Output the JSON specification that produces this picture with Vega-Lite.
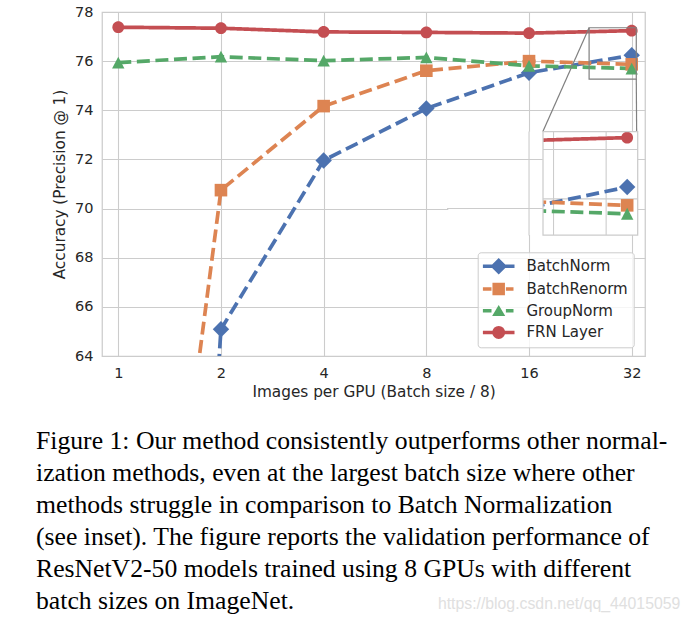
{
  "$schema": "https://vega.github.io/schema/vega-lite/v6.json",
  "background": "white",
  "padding": {"left": 35, "top": 3, "right": 0, "bottom": 0},
  "datasets": {
    "acc": [
      {"series": "BatchNorm", "images": 1, "acc": 0.1},
      {"series": "BatchNorm", "images": 2, "acc": 65.09},
      {"series": "BatchNorm", "images": 4, "acc": 71.96},
      {"series": "BatchNorm", "images": 8, "acc": 74.07},
      {"series": "BatchNorm", "images": 16, "acc": 75.53},
      {"series": "BatchNorm", "images": 32, "acc": 76.24},
      {"series": "BatchRenorm", "images": 1, "acc": 38.6},
      {"series": "BatchRenorm", "images": 2, "acc": 70.75},
      {"series": "BatchRenorm", "images": 4, "acc": 74.17},
      {"series": "BatchRenorm", "images": 8, "acc": 75.61},
      {"series": "BatchRenorm", "images": 16, "acc": 76.0},
      {"series": "BatchRenorm", "images": 32, "acc": 75.87},
      {"series": "GroupNorm", "images": 1, "acc": 75.94},
      {"series": "GroupNorm", "images": 2, "acc": 76.18},
      {"series": "GroupNorm", "images": 4, "acc": 76.02},
      {"series": "GroupNorm", "images": 8, "acc": 76.15},
      {"series": "GroupNorm", "images": 16, "acc": 75.81},
      {"series": "GroupNorm", "images": 32, "acc": 75.7},
      {"series": "FRN Layer", "images": 1, "acc": 77.38},
      {"series": "FRN Layer", "images": 2, "acc": 77.34},
      {"series": "FRN Layer", "images": 4, "acc": 77.19},
      {"series": "FRN Layer", "images": 8, "acc": 77.17},
      {"series": "FRN Layer", "images": 16, "acc": 77.14},
      {"series": "FRN Layer", "images": 32, "acc": 77.24}
    ],
    "zoombox": [
      {"x1": 24, "x2": 33, "y1": 75.27, "y2": 77.36}
    ],
    "connectors": [
      {"x1": 24, "y1": 77.36, "x2": 17.555, "y2": 73.128},
      {"x1": 33, "y1": 75.27, "x2": 33.24, "y2": 68.92}
    ],
    "insetbox": [
      {"x1": 24, "x2": 33, "y1": 75.27, "y2": 77.36}
    ],
    "insetmask": [
      {"x1": 15, "x2": 24, "y1": 75.27, "y2": 77.36}
    ],
    "insetgrid": [
      {"x1": 25, "x2": 25, "y1": 75.27, "y2": 77.36},
      {"x1": 30, "x2": 30, "y1": 75.27, "y2": 77.36},
      {"x1": 24, "x2": 33, "y1": 76, "y2": 76},
      {"x1": 24, "x2": 33, "y1": 77, "y2": 77}
    ],
    "gridfix": [
      {"x1": 16, "x2": 16, "y1": 68.9, "y2": 73.14},
      {"x1": 9.2, "x2": 17.555, "y1": 72, "y2": 72},
      {"x1": 9.2, "x2": 17.555, "y1": 70, "y2": 70}
    ]
  },
  "vconcat": [
    {
      "width": 543,
      "height": 344,
      "title": {
        "text": [
          "Figure 1: Our method consistently outperforms other normal-",
          "ization methods, even at the largest batch size where other",
          "methods struggle in comparison to Batch Normalization",
          "(see inset). The figure reports the validation performance of",
          "ResNetV2-50 models trained using 8 GPUs with different",
          "batch sizes on ImageNet."
        ],
        "orient": "bottom",
        "anchor": "start",
        "frame": "group",
        "dx": -66,
        "offset": 29,
        "font": "Liberation Serif",
        "fontSize": 25.7,
        "fontWeight": "normal",
        "color": "#000000",
        "lineHeight": 32.1
      },
      "resolve": {"scale": {"x": "independent", "y": "independent", "color": "independent", "shape": "independent", "strokeDash": "independent"}},
      "layer": [
        {
          "resolve": {"scale": {"color": "independent", "shape": "independent", "strokeDash": "independent"}},
          "layer": [
            {
              "data": {"name": "acc"},
              "mark": {"type": "line", "clip": true, "strokeWidth": 3.7},
              "encoding": {
                "x": {"field": "images", "type": "quantitative",
                      "scale": {"type": "log", "base": 2, "domain": [0.896, 35], "nice": false},
                      "axis": {"values": [1, 2, 4, 8, 16, 32], "format": "d", "title": "Images per GPU (Batch size / 8)", "labelFlush": false}},
                "y": {"field": "acc", "type": "quantitative",
                      "scale": {"domain": [64, 78], "nice": false, "zero": false},
                      "axis": {"values": [64, 66, 68, 70, 72, 74, 76, 78], "title": "Accuracy (Precision @ 1)", "labelFlush": false}},
                "color": {"field": "series", "type": "nominal",
                          "scale": {"domain": ["BatchNorm", "BatchRenorm", "GroupNorm", "FRN Layer"], "range": ["#4C72B0", "#DD8452", "#55A868", "#C44E52"]},
                          "legend": null},
                "strokeDash": {"field": "series", "type": "nominal",
                          "scale": {"domain": ["BatchNorm", "BatchRenorm", "GroupNorm", "FRN Layer"], "range": [[13, 5.6], [13, 5.6], [13, 5.6], [1, 0]]},
                          "legend": null}
              }
            },
            {
              "data": {"name": "acc"},
              "mark": {"type": "point", "filled": true, "size": 144, "opacity": 1, "clip": true, "strokeWidth": 0},
              "encoding": {
                "x": {"field": "images", "type": "quantitative", "scale": {"type": "log", "base": 2, "domain": [0.896, 35], "nice": false}},
                "y": {"field": "acc", "type": "quantitative", "scale": {"domain": [64, 78], "nice": false, "zero": false}},
                "color": {"field": "series", "type": "nominal",
                          "scale": {"domain": ["BatchNorm", "BatchRenorm", "GroupNorm", "FRN Layer"], "range": ["#4C72B0", "#DD8452", "#55A868", "#C44E52"]},
                          "legend": null},
                "shape": {"field": "series", "type": "nominal",
                          "scale": {"domain": ["BatchNorm", "BatchRenorm", "GroupNorm", "FRN Layer"],
                                    "range": ["M0,-1.37L1.37,0L0,1.37L-1.37,0Z", "M-1.05,-1.05H1.05V1.05H-1.05Z", "M0,-0.98L1.03,0.98L-1.03,0.98Z", "M-0.98,0A0.98,0.98 0 1,1 0.98,0A0.98,0.98 0 1,1 -0.98,0Z"]},
                          "legend": null}
              }
            },
            {
              "data": {"name": "acc"},
              "mark": {"type": "point", "filled": true, "opacity": 0, "clip": true},
              "encoding": {
                "x": {"field": "images", "type": "quantitative", "scale": {"type": "log", "base": 2, "domain": [0.896, 35], "nice": false}},
                "y": {"field": "acc", "type": "quantitative", "scale": {"domain": [64, 78], "nice": false, "zero": false}},
                "color": {"field": "series", "type": "nominal",
                          "scale": {"domain": ["BatchNorm", "BatchRenorm", "GroupNorm", "FRN Layer"], "range": ["#4C72B0", "#DD8452", "#55A868", "#C44E52"]},
                          "legend": {"title": null, "orient": "none", "legendX": 375.7, "legendY": 240.3, "symbolSize": 256, "symbolStrokeWidth": 0, "symbolOpacity": 1, "symbolOffset": 7, "labelOffset": 19.7, "labelFont": "DejaVu Sans", "labelFontSize": 15, "labelColor": "#262626", "rowPadding": 5.7, "padding": 6, "fillColor": "rgba(255,255,255,0.8)", "strokeColor": "#cccccc", "cornerRadius": 3}},
                "shape": {"field": "series", "type": "nominal",
                          "scale": {"domain": ["BatchNorm", "BatchRenorm", "GroupNorm", "FRN Layer"],
                                    "range": [
                                      "M-1.975,-0.22H1.975V0.22H-1.975Z M0,-1.04L1.04,0L0,1.04L-1.04,0Z",
                                      "M-1.975,-0.22H-0.9V0.22H-1.975Z M-0.78,-0.78H0.78V0.78H-0.78Z M0.9,-0.22H1.85V0.22H0.9Z",
                                      "M-1.975,-0.22H-0.9V0.22H-1.975Z M0,-0.72L0.82,0.66L-0.82,0.66Z M0.9,-0.22H1.85V0.22H0.9Z",
                                      "M-1.975,-0.22H1.975V0.22H-1.975Z M0.81,0L0.748,0.31L0.573,0.573L0.31,0.748L0,0.81L-0.31,0.748L-0.573,0.573L-0.748,0.31L-0.81,0L-0.748,-0.31L-0.573,-0.573L-0.31,-0.748L0,-0.81L0.31,-0.748L0.573,-0.573L0.748,-0.31Z"
                                    ]},
                          "legend": {"title": null, "orient": "none", "legendX": 375.7, "legendY": 240.3, "symbolSize": 256, "symbolStrokeWidth": 0, "symbolOpacity": 1, "symbolOffset": 7, "labelOffset": 19.7, "labelFont": "DejaVu Sans", "labelFontSize": 15, "labelColor": "#262626", "rowPadding": 5.7, "padding": 6, "fillColor": "rgba(255,255,255,0.8)", "strokeColor": "#cccccc", "cornerRadius": 3}}
              }
            },
            {
              "data": {"name": "zoombox"},
              "mark": {"type": "rect", "filled": false, "stroke": "#808080", "strokeWidth": 1.2},
              "encoding": {
                "x": {"field": "x1", "type": "quantitative", "scale": {"type": "log", "base": 2, "domain": [0.896, 35], "nice": false}},
                "x2": {"field": "x2"},
                "y": {"field": "y1", "type": "quantitative", "scale": {"domain": [64, 78], "nice": false, "zero": false}},
                "y2": {"field": "y2"}
              }
            },
            {
              "data": {"name": "connectors"},
              "mark": {"type": "rule", "stroke": "#808080", "strokeWidth": 1.2},
              "encoding": {
                "x": {"field": "x1", "type": "quantitative", "scale": {"type": "log", "base": 2, "domain": [0.896, 35], "nice": false}},
                "x2": {"field": "x2"},
                "y": {"field": "y1", "type": "quantitative", "scale": {"domain": [64, 78], "nice": false, "zero": false}},
                "y2": {"field": "y2"}
              }
            }
          ]
        },
        {
          "layer": [
            {
              "data": {"name": "insetbox"},
              "mark": {"type": "rect", "fill": "white", "strokeWidth": 0},
              "encoding": {
                "x": {"field": "x1", "type": "quantitative", "scale": {"domain": [24, 33], "range": [441, 535.7], "nice": false, "zero": false}, "axis": null},
                "x2": {"field": "x2"},
                "y": {"field": "y1", "type": "quantitative", "scale": {"domain": [75.27, 77.36], "range": [223, 119.7], "nice": false, "zero": false}, "axis": null},
                "y2": {"field": "y2"}
              }
            },
            {
              "data": {"name": "insetgrid"},
              "mark": {"type": "rule", "stroke": "#cccccc", "strokeWidth": 1.1},
              "encoding": {
                "x": {"field": "x1", "type": "quantitative", "scale": {"domain": [24, 33], "range": [441, 535.7], "nice": false, "zero": false}, "axis": null},
                "x2": {"field": "x2"},
                "y": {"field": "y1", "type": "quantitative", "scale": {"domain": [75.27, 77.36], "range": [223, 119.7], "nice": false, "zero": false}, "axis": null},
                "y2": {"field": "y2"}
              }
            },
            {
              "data": {"name": "acc"},
              "transform": [{"filter": "datum.images >= 16"}],
              "mark": {"type": "line", "clip": true, "strokeWidth": 3.7},
              "encoding": {
                "x": {"field": "images", "type": "quantitative", "scale": {"domain": [24, 33], "range": [441, 535.7], "nice": false, "zero": false}, "axis": null},
                "y": {"field": "acc", "type": "quantitative", "scale": {"domain": [75.27, 77.36], "range": [223, 119.7], "nice": false, "zero": false}, "axis": null},
                "color": {"field": "series", "type": "nominal",
                          "scale": {"domain": ["BatchNorm", "BatchRenorm", "GroupNorm", "FRN Layer"], "range": ["#4C72B0", "#DD8452", "#55A868", "#C44E52"]},
                          "legend": null},
                "strokeDash": {"field": "series", "type": "nominal",
                          "scale": {"domain": ["BatchNorm", "BatchRenorm", "GroupNorm", "FRN Layer"], "range": [[13, 5.6], [13, 5.6], [13, 5.6], [1, 0]]},
                          "legend": null}
              }
            },
            {
              "data": {"name": "acc"},
              "transform": [{"filter": "datum.images >= 24"}],
              "mark": {"type": "point", "filled": true, "size": 144, "opacity": 1, "clip": true, "strokeWidth": 0},
              "encoding": {
                "x": {"field": "images", "type": "quantitative", "scale": {"domain": [24, 33], "range": [441, 535.7], "nice": false, "zero": false}, "axis": null},
                "y": {"field": "acc", "type": "quantitative", "scale": {"domain": [75.27, 77.36], "range": [223, 119.7], "nice": false, "zero": false}, "axis": null},
                "color": {"field": "series", "type": "nominal",
                          "scale": {"domain": ["BatchNorm", "BatchRenorm", "GroupNorm", "FRN Layer"], "range": ["#4C72B0", "#DD8452", "#55A868", "#C44E52"]},
                          "legend": null},
                "shape": {"field": "series", "type": "nominal",
                          "scale": {"domain": ["BatchNorm", "BatchRenorm", "GroupNorm", "FRN Layer"],
                                    "range": ["M0,-1.37L1.37,0L0,1.37L-1.37,0Z", "M-1.05,-1.05H1.05V1.05H-1.05Z", "M0,-0.98L1.03,0.98L-1.03,0.98Z", "M-0.98,0A0.98,0.98 0 1,1 0.98,0A0.98,0.98 0 1,1 -0.98,0Z"]},
                          "legend": null}
              }
            },
            {
              "data": {"name": "insetmask"},
              "mark": {"type": "rect", "fill": "white", "strokeWidth": 0},
              "encoding": {
                "x": {"field": "x1", "type": "quantitative", "scale": {"domain": [24, 33], "range": [441, 535.7], "nice": false, "zero": false}, "axis": null},
                "x2": {"field": "x2"},
                "y": {"field": "y1", "type": "quantitative", "scale": {"domain": [75.27, 77.36], "range": [223, 119.7], "nice": false, "zero": false}, "axis": null},
                "y2": {"field": "y2"}
              }
            },
            {
              "data": {"name": "insetbox"},
              "mark": {"type": "rect", "filled": false, "stroke": "#cccccc", "strokeWidth": 1.25},
              "encoding": {
                "x": {"field": "x1", "type": "quantitative", "scale": {"domain": [24, 33], "range": [441, 535.7], "nice": false, "zero": false}, "axis": null},
                "x2": {"field": "x2"},
                "y": {"field": "y1", "type": "quantitative", "scale": {"domain": [75.27, 77.36], "range": [223, 119.7], "nice": false, "zero": false}, "axis": null},
                "y2": {"field": "y2"}
              }
            }
          ]
        },
        {
          "data": {"name": "gridfix"},
          "mark": {"type": "rule", "stroke": "#cccccc", "strokeWidth": 1.1},
          "encoding": {
            "x": {"field": "x1", "type": "quantitative", "scale": {"type": "log", "base": 2, "domain": [0.896, 35], "nice": false}, "axis": null},
            "x2": {"field": "x2"},
            "y": {"field": "y1", "type": "quantitative", "scale": {"domain": [64, 78], "nice": false, "zero": false}, "axis": null},
            "y2": {"field": "y2"}
          }
        }
      ]
    }
  ],
  "title": {
    "text": "https://blog.csdn.net/qq_44015059",
    "orient": "bottom",
    "anchor": "end",
    "frame": "group",
    "dx": 35.3,
    "offset": -18,
    "font": "Liberation Sans",
    "fontSize": 15.8,
    "fontWeight": "normal",
    "color": "#e0e0e0"
  },
  "config": {
    "font": "DejaVu Sans",
    "view": {"stroke": "#cccccc", "strokeWidth": 1.25},
    "axis": {
      "grid": true, "gridColor": "#cccccc", "gridWidth": 1.1,
      "domain": false, "ticks": false,
      "labelFont": "DejaVu Sans", "labelFontSize": 14.5, "labelColor": "#262626",
      "titleFont": "DejaVu Sans", "titleFontSize": 15.3, "titleFontWeight": "normal", "titleColor": "#262626"
    },
    "axisX": {"labelPadding": 10, "titlePadding": 5},
    "axisY": {"labelPadding": 9, "titlePadding": 7}
  }
}
